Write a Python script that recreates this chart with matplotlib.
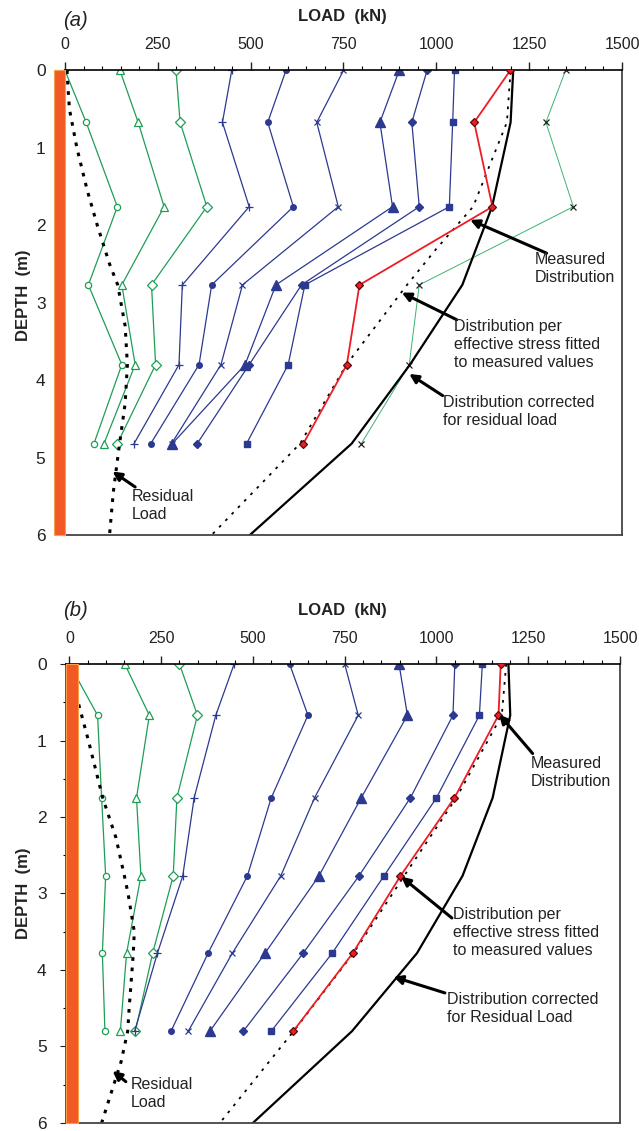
import numpy as np
import matplotlib.pyplot as plt
from matplotlib.patches import Rectangle
from matplotlib.ticker import MultipleLocator

plt.rcParams['font.family'] = ['Liberation Sans', 'DejaVu Sans']

# ---- panel (a) data ----
depth_a = [0, 0.67, 1.76, 2.77, 3.8, 4.82]
a_circle = [0, 57, 141, 63, 153, 78]
a_tri = [148, 197, 267, 153, 189, 105]
a_diam = [299, 310, 382, 233, 244, 141]
a_plus = [449, 424, 496, 316, 307, 186]
a_dot = [595, 546, 615, 395, 361, 231]
a_x = [750, 678, 736, 478, 420, 287]
a_tri_f = [900, 848, 882, 568, 485, 289]
a_diam_f = [975, 934, 954, 637, 496, 356]
a_sq = [1049, 1044, 1035, 646, 601, 489]
a_meas = [1199, 1102, 1151, 793, 759, 642]
a_xg = [1348, 1295, 1369, 954, 927, 798]

a_corr_d = [0, 0.67, 1.76, 2.77, 3.8, 4.82, 6]
a_corr = [1207, 1200, 1150, 1070, 929, 772, 498]
a_fit_d = [0, 0.67, 1.76, 2.31, 2.77, 3.8, 4.82, 6]
a_fit = [1200, 1190, 1099, 999, 921, 758, 633, 395]
a_res_d = [0, 0.5, 1.0, 1.55, 2.0, 2.5, 2.77, 3.3, 3.8, 4.3, 4.82, 5.45, 6.0]
a_res = [5, 12, 32, 60, 87, 120, 142, 162, 168, 162, 147, 130, 120]

# ---- panel (b) data ----
depth_b = [0, 0.67, 1.75, 2.77, 3.78, 4.8]
b_circle = [0, 77, 88, 99, 90, 97]
b_tri = [151, 218, 183, 195, 156, 139]
b_diam = [300, 349, 293, 283, 227, 180]
b_plus = [449, 399, 340, 309, 240, 178]
b_dot = [600, 650, 550, 485, 378, 277]
b_x = [750, 787, 668, 576, 444, 324]
b_tri_f = [898, 921, 795, 680, 533, 383]
b_diam_f = [1050, 1045, 929, 789, 637, 474]
b_sq = [1125, 1117, 1000, 857, 716, 550]
b_meas = [1175, 1169, 1049, 902, 772, 610]

b_corr_d = [0, 0.67, 1.75, 2.77, 3.78, 4.8, 6]
b_corr = [1196, 1201, 1153, 1071, 947, 770, 500]
b_fit_d = [0, 0.67, 1.75, 2.77, 3.78, 4.8, 6]
b_fit = [1190, 1178, 1054, 912, 774, 611, 410]
b_res_d = [0, 0.5, 1.0, 1.75, 2.27, 2.77, 3.0, 3.5, 3.8, 4.5, 4.8, 5.2, 6.0]
b_res = [0, 24, 52, 91, 127, 150, 160, 177, 174, 163, 159, 141, 88]

green = '#1E9E55'
blue = '#2B3990'
red = '#EE1C25'
orange = '#F15A24'

fig = plt.figure(figsize=(6.39, 11.31), dpi=100)
ax1 = fig.add_axes([0.1017, 0.527, 0.8717, 0.4107])
ax2 = fig.add_axes([0.1033, 0.0071, 0.867, 0.4058])


def tests(ax, d, series):
    # green open markers
    ax.plot(series[0], d, color=green, lw=0.9, marker='o', ms=4.5, mfc='white', mec=green, mew=0.9)
    ax.plot(series[1], d, color=green, lw=0.9, marker='^', ms=5.5, mfc='white', mec=green, mew=0.9)
    ax.plot(series[2], d, color=green, lw=0.9, marker='D', ms=5, mfc='white', mec=green, mew=0.9)
    # blue
    ax.plot(series[3], d, color=blue, lw=0.9, marker='+', ms=6, mew=0.9)
    ax.plot(series[4], d, color=blue, lw=0.9, marker='o', ms=4)
    ax.plot(series[5], d, color=blue, lw=0.9, marker='x', ms=5, mew=0.9)
    ax.plot(series[6], d, color=blue, lw=0.9, marker='^', ms=7)
    ax.plot(series[7], d, color=blue, lw=0.9, marker='D', ms=3.8)
    ax.plot(series[8], d, color=blue, lw=0.9, marker='s', ms=4.5)
    ax.plot(series[9], d, color=red, lw=1.3, marker='D', ms=4, mfc=red, mec='#5a0a0a', mew=0.9, zorder=4)


def frame(ax, xmin, bar):
    ax.set_xlim(xmin, 1500)
    ax.set_ylim(6, 0)
    ax.xaxis.tick_top()
    ax.set_xticks(range(0, 1501, 250))
    ax.xaxis.set_minor_locator(MultipleLocator(50))
    ax.set_yticks(range(0, 7))
    ax.yaxis.set_minor_locator(MultipleLocator(0.5))
    ax.tick_params(axis='x', which='major', direction='out', length=6, width=1, pad=7, labelsize=11.5, colors='#222222')
    ax.tick_params(axis='x', which='minor', direction='out', length=3, width=0.8)
    ax.tick_params(axis='y', which='major', direction='out', length=4, width=0.8, pad=10, labelsize=12.5, colors='#222222')
    ax.tick_params(axis='y', which='minor', direction='out', length=2.5, width=0.8)
    ax.spines['top'].set_linewidth(1.2)
    ax.spines['top'].set_color('black')
    for s in ['right', 'bottom', 'left']:
        ax.spines[s].set_linewidth(1.3)
        ax.spines[s].set_color('#444444')
    ax.add_patch(Rectangle((bar[0], 0), bar[1] - bar[0], 6, facecolor=orange,
                           edgecolor='#F7A04B', lw=0.8, clip_on=False, zorder=5))


def note(ax, txt, head, tail, pos):
    ax.annotate('', xy=head, xytext=tail,
                arrowprops=dict(arrowstyle='-|>', color='black', lw=2.2, mutation_scale=13,
                                shrinkA=0, shrinkB=0), zorder=6)
    ax.text(pos[0], pos[1], txt, ha='left', va='top', fontsize=11.5, color='#222222',
            linespacing=1.25, zorder=6)


# ---- panel (a) ----
tests(ax1, depth_a, [a_circle, a_tri, a_diam, a_plus, a_dot, a_x, a_tri_f, a_diam_f, a_sq, a_meas])
ax1.plot(a_xg, depth_a, color='#3CB371', lw=0.7, marker='x', ms=5, mec='#222222', mew=0.9)
ax1.plot(a_corr, a_corr_d, color='black', lw=1.6)
ax1.plot(a_fit, a_fit_d, color='black', lw=1.3, linestyle=(0, (1.5, 3.5)))
ax1.plot(a_res, a_res_d, color='black', lw=2.2, linestyle=(0, (1.2, 2.2)))
frame(ax1, 0, (-29, 0))
note(ax1, 'Measured\nDistribution', (1091, 1.93), (1297, 2.36), (1266, 2.34))
note(ax1, 'Distribution per\neffective stress fitted\nto measured values', (907, 2.87), (1055, 3.22), (1048, 3.21))
note(ax1, 'Distribution corrected\nfor residual load', (927, 3.92), (1017, 4.20), (1019, 4.19))
note(ax1, 'Residual\nLoad', (128, 5.18), (189, 5.38), (180, 5.41))

# ---- panel (b) ----
tests(ax2, depth_b, [b_circle, b_tri, b_diam, b_plus, b_dot, b_x, b_tri_f, b_diam_f, b_sq, b_meas])
ax2.plot(b_corr, b_corr_d, color='black', lw=1.6)
ax2.plot(b_fit, b_fit_d, color='black', lw=1.3, linestyle=(0, (1.5, 3.5)))
ax2.plot(b_res, b_res_d, color='black', lw=2.2, linestyle=(0, (1.2, 2.2)))
frame(ax2, -9, (-9, 23))
note(ax2, 'Measured\nDistribution', (1171, 0.66), (1262, 1.17), (1257, 1.20))
note(ax2, 'Distribution per\neffective stress fitted\nto measured values', (904, 2.78), (1042, 3.32), (1044, 3.18))
note(ax2, 'Distribution corrected\nfor Residual Load', (883, 4.09), (1023, 4.30), (1028, 4.29))
note(ax2, 'Residual\nLoad', (118, 5.32), (154, 5.46), (167, 5.40))

# ---- titles / axis labels ----
W, H = 639, 1131
for y_lab, y_load, y_depth, tag in [(20, 16.5, 295, '(a)'), (611, 610, 893, '(b)')]:
    fig.text(63 / W, 1 - y_lab / H, tag, fontsize=14.5, style='italic', ha='left', va='center', color='#222222')
    fig.text(342 / W, 1 - y_load / H, 'LOAD  (kN)', fontsize=12, fontweight='bold', ha='center', va='center', color='#222222')
    fig.text(24 / W, 1 - y_depth / H, 'DEPTH  (m)', fontsize=12, fontweight='bold', rotation=90,
             ha='center', va='center', color='#222222')

plt.savefig('out.png', dpi=100)
